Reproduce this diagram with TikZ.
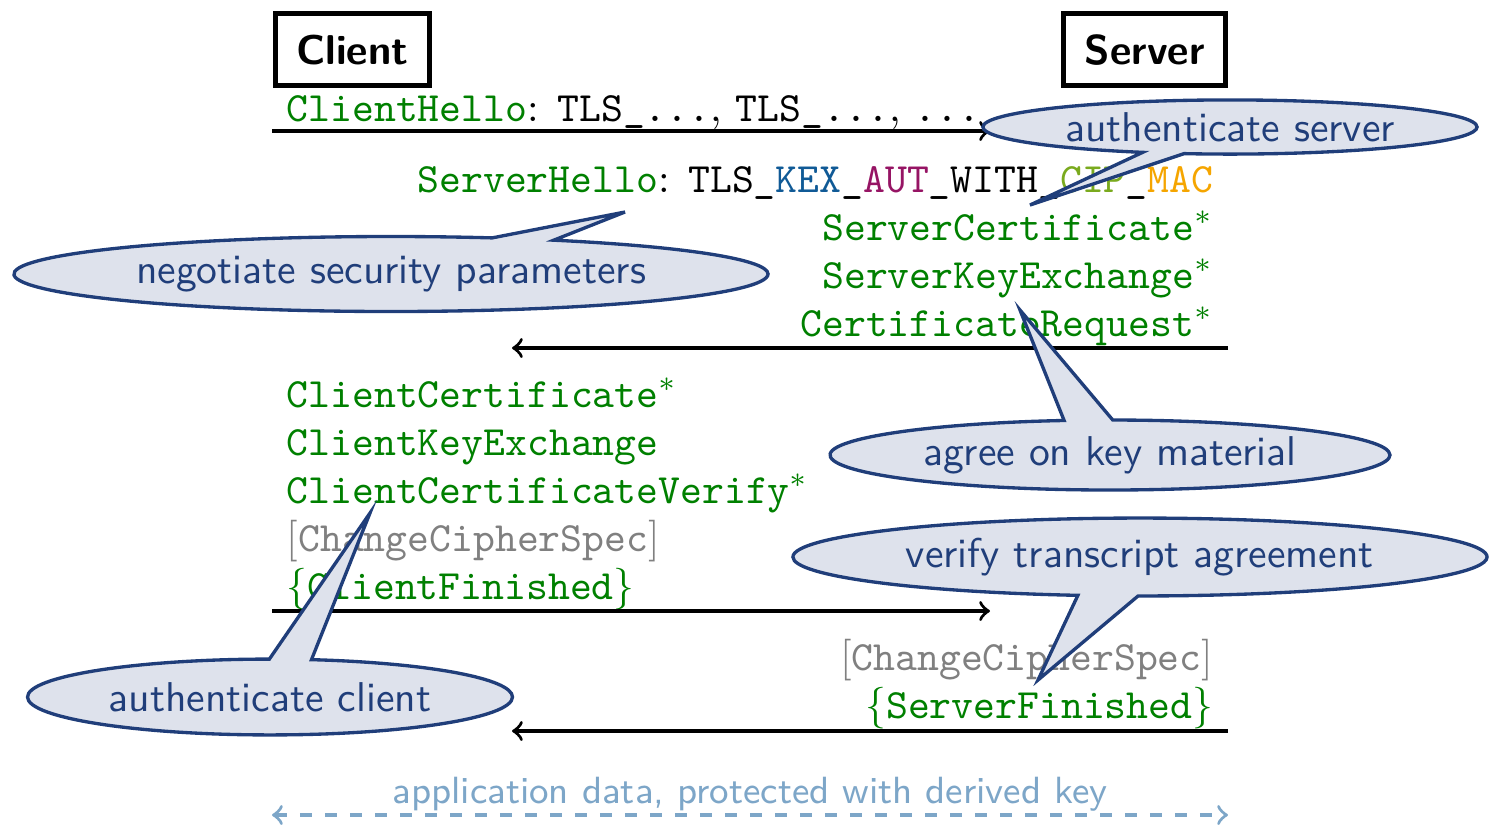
\documentclass[tikz,border=0pt]{standalone}
\usepackage{amsmath}
\usetikzlibrary{shapes.callouts}

\definecolor{msggreen}{RGB}{0,128,0}
\definecolor{kexblue}{RGB}{16,90,150}
\definecolor{autpurple}{RGB}{150,20,100}
\definecolor{cipgreen}{RGB}{122,170,30}
\definecolor{macorange}{RGB}{245,165,0}
\definecolor{bubbleline}{RGB}{32,62,122}
\definecolor{bubblefill}{RGB}{222,226,236}
\definecolor{appblue}{RGB}{125,166,200}

\tikzset{
  party/.style={draw, line width=1.2pt, font=\sffamily\bfseries, inner xsep=5pt, minimum height=17.3pt},
  msg/.style={text=msggreen},
  ccs/.style={text=black!50},
  msgarrow/.style={->, thick},
  bubble/.style={ellipse callout, draw=bubbleline, fill=bubblefill, thick, text=bubbleline, font=\sffamily, inner sep=0pt, callout pointer arc=10}
}

\begin{document}
\begin{tikzpicture}[x=0.24pt, y=-0.24pt]
      \useasboundingbox (0,0) rectangle (1497,834);

      \node[party, anchor=north west] (client) at (273,11){Client};
      \node[party, anchor=north east] (server) at (1228,11){Server};

      % ends of the message arrows
      \coordinate (c1) at (272,131);
      \coordinate (s1) at (990,131);
      \coordinate (s2) at (1228,348);
      \coordinate (c2) at (512,348);
      \coordinate (c3) at (272,611);
      \coordinate (s3) at (990,611);
      \coordinate (s4) at (1228,731);
      \coordinate (c4) at (512,731);
      \coordinate (c5) at (272,815);
      \coordinate (s5) at (1228,815);

      \node[msg, anchor=base west] (m1) at (272,121){\texttt{ClientHello}{\color{black}: \texttt{TLS\_...}, \texttt{TLS\_...}, \texttt{...}}};

      \node[msg, anchor=base east] (m2) at (1228,192){\texttt{ServerHello}{\color{black}: \texttt{TLS\_\textcolor{kexblue}{KEX}\_\textcolor{autpurple}{AUT}\_WITH\_\textcolor{cipgreen}{CIP}\_\textcolor{macorange}{MAC}}}};
      \node[msg, anchor=base east] (m3) at (1228,240){\texttt{ServerCertificate}$^*$};
      \node[msg, anchor=base east] (m4) at (1228,288){\texttt{ServerKeyExchange}$^*$};
      \node[msg, anchor=base east] (m5) at (1228,336){\texttt{CertificateRequest}$^*$};

      \node[msg, anchor=base west] (m6) at (272,407){\texttt{ClientCertificate}$^*$};
      \node[msg, anchor=base west] (m7) at (272,455){\texttt{ClientKeyExchange}};
      \node[msg, anchor=base west] (m8) at (272,503){\texttt{ClientCertificateVerify}$^*$};
      \node[ccs, anchor=base west] (m9) at (272,551){[\texttt{ChangeCipherSpec}]};
      \node[msg, anchor=base west] (m10) at (272,599){$\{$\texttt{ClientFinished}$\}$};

      \node[ccs, anchor=base east] (m11) at (1228,670){[\texttt{ChangeCipherSpec}]};
      \node[msg, anchor=base east] (m12) at (1228,718){$\{$\texttt{ServerFinished}$\}$};

      \node[text=appblue, font=\sffamily\fontsize{9.1}{11}\selectfont, anchor=base] (app) at (750,803){application data, protected with derived key};

      \draw[msgarrow] (c1) -- (s1);
      \draw[msgarrow] (s2) -- (c2);
      \draw[msgarrow] (c3) -- (s3);
      \draw[msgarrow] (s4) -- (c4);
      \draw[<->, thick, dashed, appblue] (c5) -- (s5);

      % callouts on top
      \coordinate (p1) at (1030,205);
      \coordinate (p2) at (625,212);
      \coordinate (p3) at (1020,310);
      \coordinate (p4) at (1038,680);
      \coordinate (p5) at (370,513);

      \node[bubble, minimum width=118.6pt, minimum height=13pt, callout absolute pointer=(p1)] (b1) at (1230,127){authenticate server};
      \node[bubble, minimum width=181pt, minimum height=18pt, callout absolute pointer=(p2)] (b2) at (391,274){negotiate security parameters};
      \node[bubble, minimum width=134.4pt, minimum height=16.8pt, callout absolute pointer=(p3)] (b3) at (1110,455){agree on key material};
      \node[bubble, minimum width=166.6pt, minimum height=18.7pt, callout absolute pointer=(p4)] (b4) at (1140,557){verify transcript agreement};
      \node[bubble, minimum width=116.4pt, minimum height=18.2pt, callout absolute pointer=(p5)] (b5) at (270,697){authenticate client};

    \end{tikzpicture}
\end{document}
